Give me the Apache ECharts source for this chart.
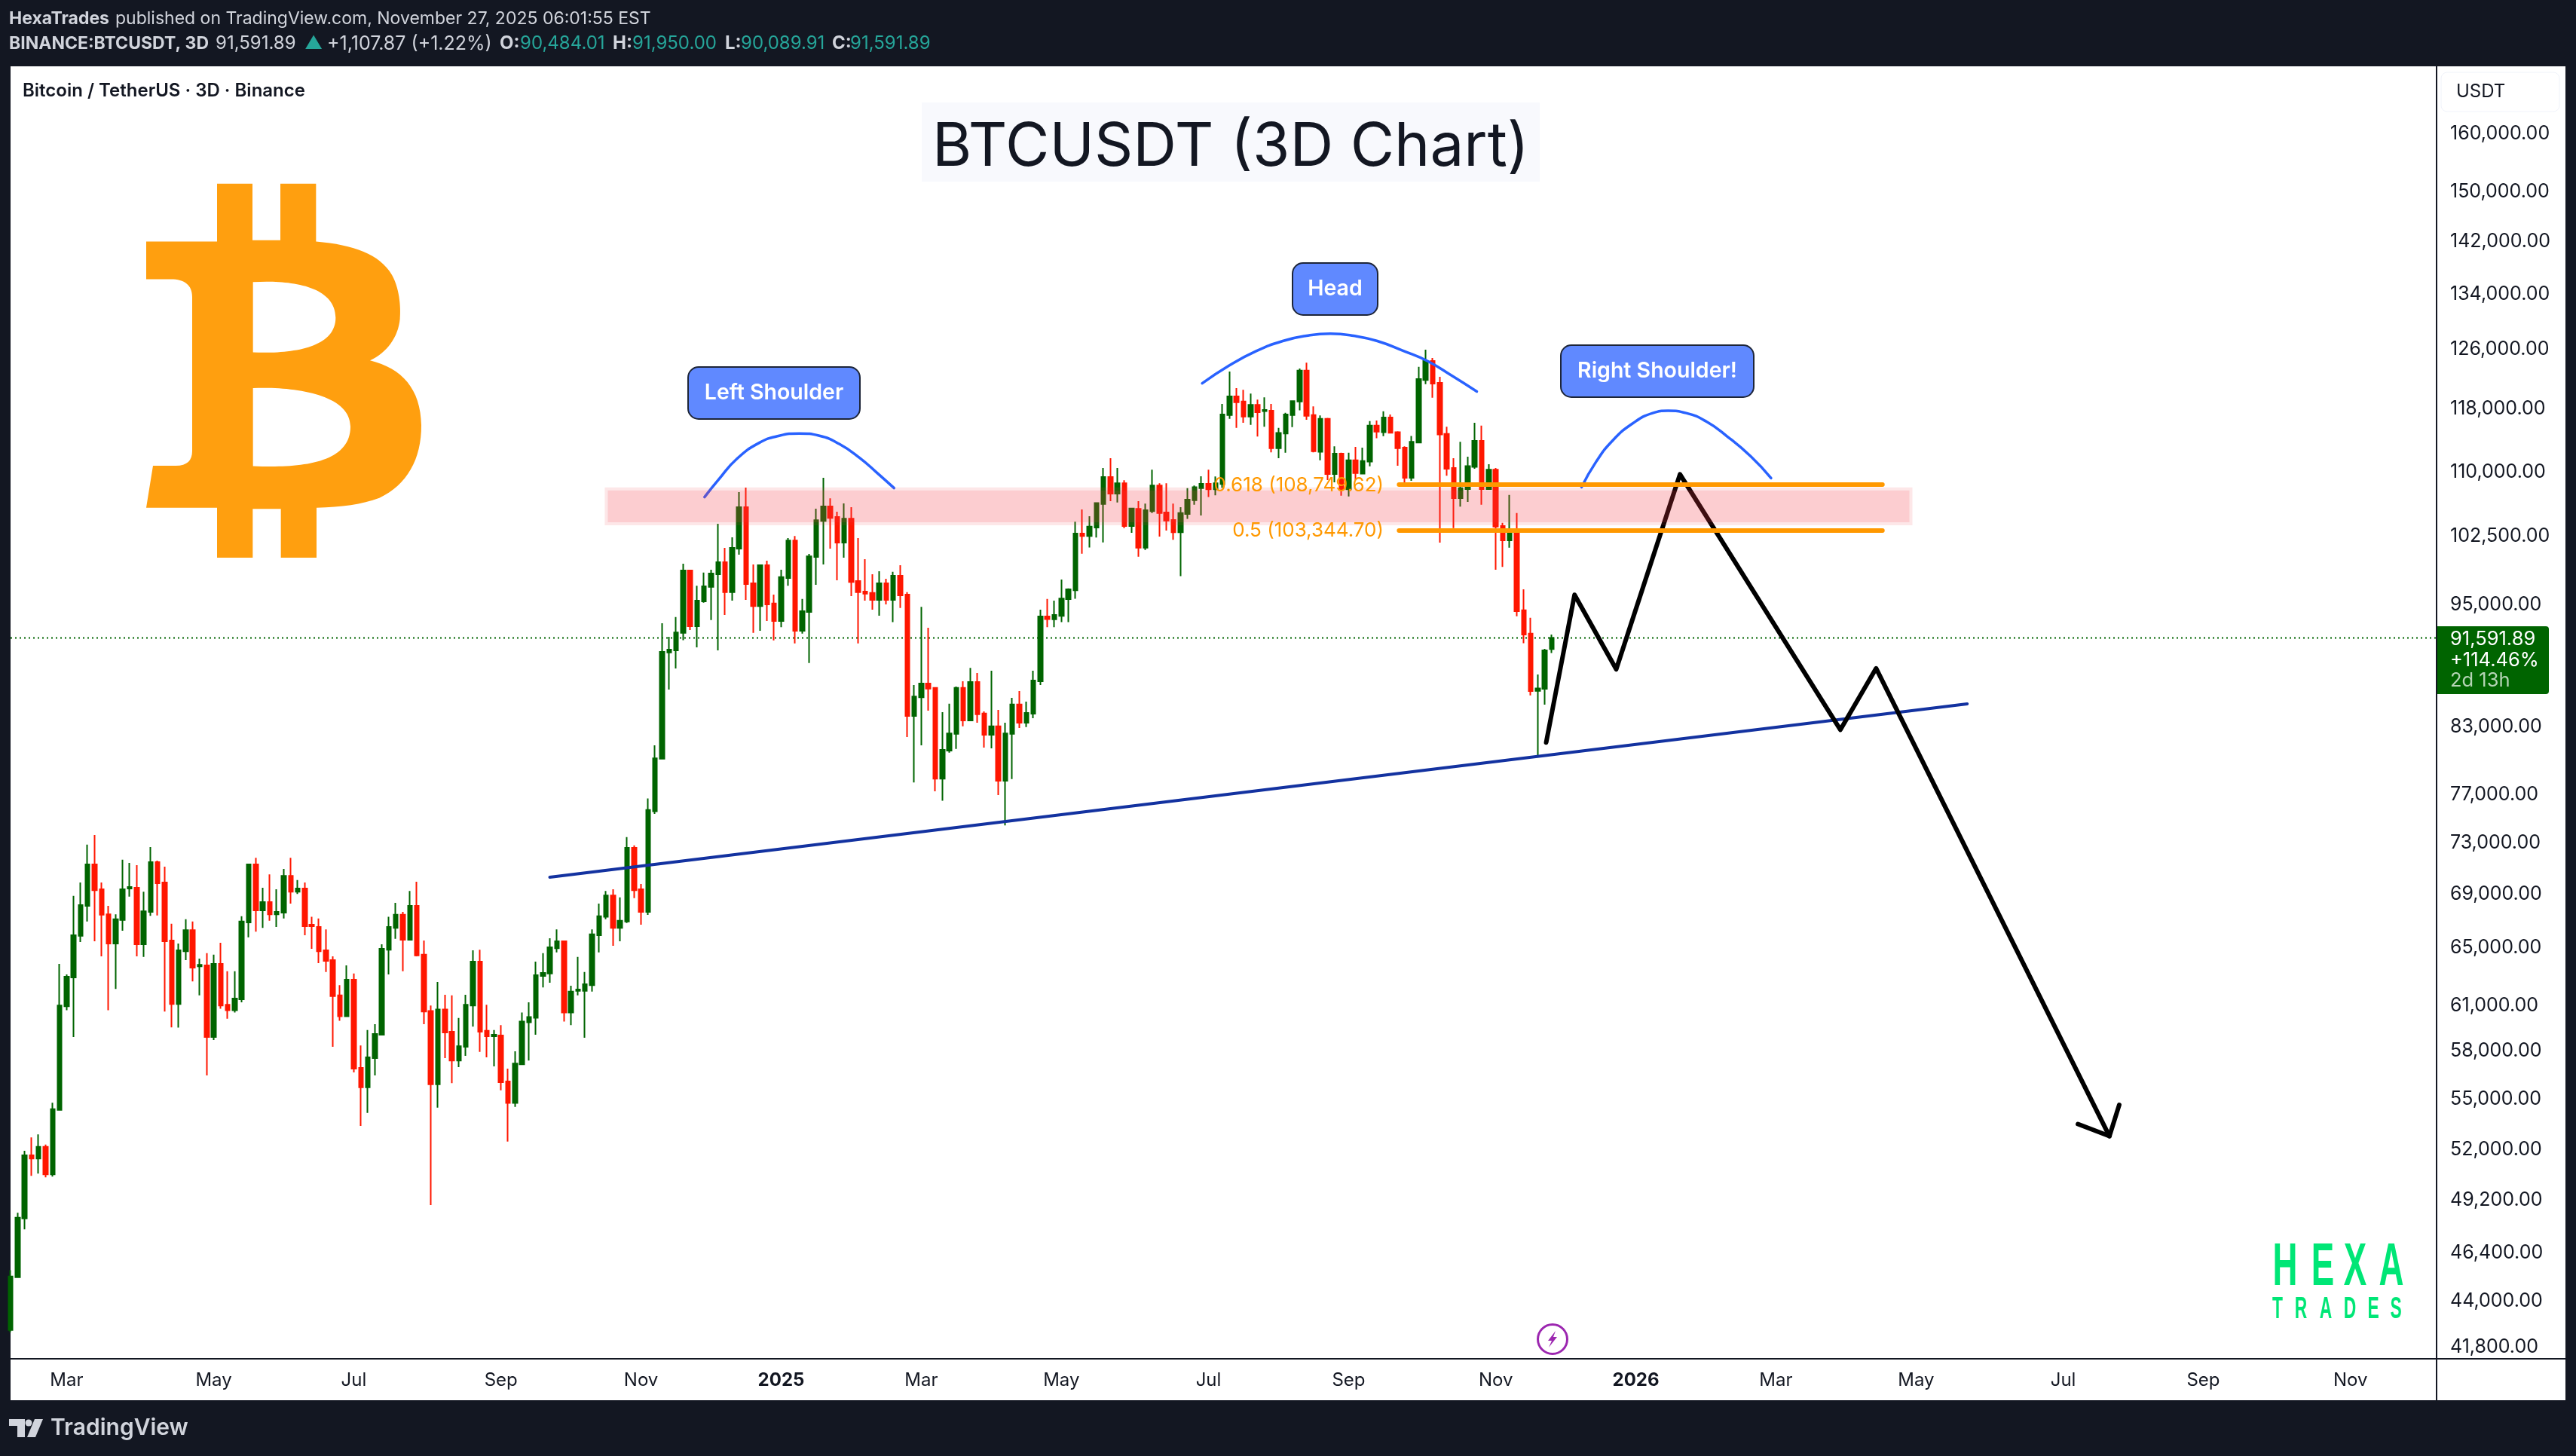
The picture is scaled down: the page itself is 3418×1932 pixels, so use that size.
<!DOCTYPE html>
<html>
<head>
<meta charset="utf-8">
<title>BTCUSDT (3D Chart)</title>
<script src="https://cdn.jsdelivr.net/npm/echarts@6/dist/echarts.min.js"></script>
<style>
  html, body { margin: 0; padding: 0; background: #131722; }
  #chart { width: 3418px; height: 1932px; }
</style>
</head>
<body>
<div id="chart"></div>
<script>
// 3D candles, one value per bar, bar 0 = first bar on the left edge
const opens = [
  42600,45160,48200,51680,51500,52170,50610,54340,60950,62920,65880,68100,71300,69360,67470,65330,67050,69420,69480,65270,
  67650,71480,69890,65540,61100,64770,66300,63700,63760,58910,63870,61050,60680,61420,66870,71300,67760,68390,67470,67590,
  70400,69180,69420,66700,66530,64830,64140,61680,60280,62760,56930,55720,57550,59060,64880,66470,67440,65600,68100,64520,
  60630,55910,60730,59260,57400,58280,61000,64030,59310,58960,59010,56080,54760,57160,59880,60180,63030,63190,64990,65490,
  60530,62000,62000,62390,65930,67280,68890,66470,66930,72620,69360,67650,75620,80140,90140,90350,92110,98690,92780,95370,
  96910,98290,99610,96360,101100,105860,97310,94890,99260,95150,93340,97880,102020,92320,94260,100190,104260,105950,104720,101790,
  104510,97540,96410,96270,95540,97310,95540,98110,96100,84030,85770,87100,86670,78400,80870,82370,86670,83610,87230,84250,
  82300,83060,78220,82370,85100,83400,84230,87310,93790,93510,93860,95620,96560,102800,102530,103500,106230,109430,107450,108700,
  103660,105660,101210,105390,108420,105230,104360,102960,105060,106670,108110,108630,107970,108600,117210,119660,118980,117020,118530,117730,
  117760,112980,114830,117210,118980,123110,117210,112550,116720,109810,112300,107970,111490,109850,111320,115840,115010,116900,115010,113050,
  109360,113690,121850,124440,121460,114790,110550,106910,108000,110680,113900,108000,110340,103660,102040,103260,94440,92040,86390,86580,
  90484.01
];
const highs = [
  45510,48500,51940,52720,52890,52300,54780,63870,63130,68860,69890,72870,73650,69890,68100,67470,71670,71420,71240,69180,
  72680,71600,71120,66770,65330,67100,66930,64250,64630,64520,65380,63350,63350,67330,71360,71820,69480,70520,69360,70940,
  71820,70070,69890,67280,67160,66360,64410,62390,63760,63190,58360,59370,59750,65270,67280,68330,67650,69240,69950,65540,
  61000,62600,61730,61680,60160,61730,64830,64880,61050,59370,59690,56880,57980,60530,61210,64030,64630,65710,66360,65490,
  62340,64360,63300,66360,68270,69240,69360,68740,73480,72810,69770,76700,81340,93100,91710,93740,99440,98690,97050,98460,
  98780,103920,101190,102380,107630,108180,99350,99350,99760,96100,98780,102290,102530,95630,100510,105670,109340,106900,105330,106300,
  105860,102290,99930,98290,98600,97800,98540,99260,96360,86950,94810,92640,86720,84370,85170,86800,87310,88610,88120,84440,
  88330,84590,83400,85720,86370,85360,88330,94510,95630,95460,97710,96750,104170,105590,104790,106400,110550,111740,110550,109050,
  105790,106570,106260,110340,108700,108700,106260,105860,108110,108420,109530,110340,109500,118660,122980,120760,120530,120030,119220,119530,
  118660,115550,117490,119100,123390,124210,118340,117170,116830,113230,112420,112420,113160,113050,116420,116490,117690,117280,115120,113230,
  114520,123630,126000,124840,122280,115700,111740,113790,111920,116200,115840,111000,110550,104030,107300,105160,96650,93660,87960,90500,
  91950
];
const lows = [
  42500,45150,47620,50520,50650,50440,50480,54340,60680,58910,65440,66930,65490,64410,60680,62130,66250,68800,64410,64360,
  67360,67390,60590,59540,59520,64140,62650,61680,56460,58710,60780,60110,60530,61210,65770,66190,66470,66990,66530,67160,
  68270,69010,65930,64940,63920,63300,58280,59980,60280,56640,53390,54160,56460,59060,63130,65660,63350,65600,64410,59750,
  48920,54480,57550,55980,56980,57700,59590,57950,57600,57030,55530,52470,54530,57160,57400,59060,62230,62550,64690,59930,
  59690,61680,58860,61940,64690,67100,65160,65490,66820,68690,66700,67420,75400,80090,86520,88560,91360,92400,90650,95230,
  93420,90350,93960,95460,100430,95540,92110,92320,93340,91340,92700,97050,91050,92030,89090,97140,99350,101100,97630,100110,
  95940,91050,95460,94510,93880,95060,93210,94680,82080,78070,81340,84520,77310,76510,80680,81010,83060,83610,83400,81130,
  81060,76990,74440,78360,82920,83000,83810,86950,92700,92690,93210,93210,95650,100550,101240,102360,101800,106570,106400,103430,
  102900,100210,100950,105160,102460,103160,102100,98070,104500,106130,104890,107060,107250,108140,116720,115550,116200,115950,114460,115700,
  112480,111740,112420,115660,117830,116600,112480,111500,109080,108810,107210,107110,109080,109850,110750,114240,114500,114900,110820,108810,
  108980,113690,121270,119480,101790,109600,103430,105920,106470,110450,106130,108000,98780,99090,101210,93810,91070,85960,80440,85080,
  90089.91
];
const closes = [
  45200,48240,51680,51500,52170,50610,54390,61000,62970,65930,68160,71300,69300,67440,65330,67100,69360,69540,65270,67700,
  71480,69830,65490,61100,64830,66300,63600,63810,58910,63870,61000,60680,61470,66930,71300,67760,68390,67470,67650,70400,
  69180,69420,66590,66590,64770,64090,61630,60280,62760,56880,55720,57600,59110,64940,66530,67440,65600,68100,64470,60590,
  55910,60730,59210,57400,58310,61050,64030,59260,58960,59060,56030,54760,57200,59930,60230,63080,63240,65050,65490,60530,
  61940,62080,62450,65990,67330,68890,66470,66990,72620,69300,67650,75730,80180,90190,90430,92160,98690,92780,95460,96970,
  98370,99610,96360,101190,105860,97220,94890,99260,95060,93340,97970,102020,92320,94340,100250,104350,105950,104600,101790,104510,
  97450,96360,96190,95540,97310,95540,98110,96020,84030,85850,87100,86600,78400,80940,82420,86670,83610,87230,84180,82300,
  83060,78220,82420,85100,83400,84300,87390,93790,93520,93950,95680,96650,102800,102530,103600,106330,109430,107450,108700,103660,
  105690,101210,105490,108420,105160,104300,102960,105160,106740,108210,108630,107970,108700,117280,119660,118870,117020,118530,117580,117870,
  112980,114900,117280,119030,123110,117100,112620,116720,109810,112300,107970,111490,109910,111390,115840,115080,116900,114940,112980,109360,
  113790,121970,124440,121350,114720,110450,106910,108110,110780,113900,108000,110340,103600,102040,103260,94350,91950,86360,86630,90350,
  91591.89
];

// axis ticks
const priceTicks = [160000,150000,142000,134000,126000,118000,110000,102500,95000,83000,77000,73000,69000,65000,61000,58000,55000,52000,49200,46400,44000,41800];
const monthTicks = [8,29,49,70,90,110,130,150,171,191,212,232,252,272,293,313,334];
const monthLabels = ['Mar','May','Jul','Sep','Nov','2025','Mar','May','Jul','Sep','Nov','2026','Mar','May','Jul','Sep','Nov'];

// drawings on the chart as [bar, price]
const lastPrice = 91591.89;
const xEnd = 346.3;
const trendLine = [[76.97,70300],[279.3,85155]];
const fib618 = [[198.2,108530],[267.2,108530]];
const fib500 = [[198.2,103160],[267.2,103160]];
const zigzag = [[219.2,81590],[223.25,96070],[229.2,88480],[238.3,109770],[261.2,82750],[266.3,88570],[299.6,52790]];
const arrowHead = [[295.1,53500],[299.6,52790],[301.0,54650]];
const leftArc = [[99.06,107040],[101.11,109170],[103.63,111630],[106.86,113660],[109.72,114550],[112.59,114840],[115.47,114550],[118.33,113500],[121.21,111780],[123.71,109930],[126.12,108110]];
const headArc = [[170.1,121390],[173.95,123810],[177.8,125800],[181.6,127210],[185,127950],[188.4,128240],[191.7,127950],[195.1,127210],[198.9,125800],[202.3,124400],[205.7,122440],[209.3,120300]];
const rightArc = [[224.25,108220],[226.3,111270],[228.7,113960],[231.6,116160],[234.4,117460],[236.6,117760],[239.2,117460],[242.1,116350],[245,114500],[248.4,111970],[251.3,109320]];
const zone = [[85.25,107830,271.05,104100]];

const FONT = 'Inter, "Noto Sans", sans-serif';
const LOGO_FONT = '"Liberation Sans", sans-serif';
const DARK = '#131722';
const UP = '#006400';
const DOWN = '#ff1600';

const candleData = opens.map((o, i) => [i, o, closes[i], lows[i], highs[i]]);

function drawing(data, color, width, z, smooth) {
    return {
        type: 'line', data: data, symbol: 'none', z: z, smooth: !!smooth, silent: true,
        lineStyle: { color: color, width: width, cap: 'round', join: 'round' }
    };
}

function txt(text, x, y, size, color, extra) {
    return {
        type: 'text', z: 40, x: x, y: y,
        style: Object.assign({
            text: text, fontFamily: FONT, fontSize: size, fill: color,
            textAlign: 'left', textVerticalAlign: 'middle'
        }, extra || {})
    };
}

function callout(label, x0, y0, x1, y1) {
    return [
        { type: 'rect', z: 30, shape: { x: x0, y: y0, width: x1 - x0, height: y1 - y0, r: 14 },
          style: { fill: '#6089ff', stroke: '#1d2538', lineWidth: 2 } },
        txt(label, (x0 + x1) / 2, (y0 + y1) / 2, 28.5, '#ffffff', { textAlign: 'center', fontWeight: 600 })
    ];
}

function logoLetter(letter, x, y, size, squeeze) {
    const el = txt(letter, x, y, size, '#00e676', { textAlign: 'center', fontWeight: 700, fontFamily: LOGO_FONT });
    el.scaleX = squeeze;
    return el;
}

const headerRow2 = [
    ['91,591.89', 286, '#d1d4dc', 400, 24], ['▲', 404, '#26a69a', 400, 24], ['+1,107.87 (+1.22%)', 434, '#d1d4dc', 400, 25],
    ['O:', 663, '#d1d4dc', 700, 24], ['90,484.01', 690, '#26a69a', 400, 24],
    ['H:', 813, '#d1d4dc', 700, 24], ['91,950.00', 839, '#26a69a', 400, 24],
    ['L:', 962, '#d1d4dc', 700, 24], ['90,089.91', 983, '#26a69a', 400, 24],
    ['C:', 1104, '#d1d4dc', 700, 24], ['91,591.89', 1128, '#26a69a', 400, 24]
];

// bitcoin logo outline
const btcPath = 'M354 69L495 69L495 287L606 287L606 69L748 69L748 292C900 305 1000 340 1050 420C1085 480 1085 560 1082 590C1075 660 1030 720 963 750C1090 780 1165 860 1167 1000C1168 1130 1110 1230 1000 1280C930 1305 850 1315 750 1318L750 1510L608 1510L608 1322L496 1322L496 1510L354 1510L354 1318L72 1318L99 1156L190 1156C235 1156 255 1135 255 1100L255 505C255 460 225 437 170 437L72 437L72 292L354 292Z'
    + 'M497 448L497 719C660 725 826 700 826 585C825 460 640 440 497 448Z'
    + 'M497 857L497 1157C680 1165 885 1150 885 1005C885 880 660 850 497 857Z';
echarts.graphic.registerShape('btcLogo', echarts.graphic.extendPath(btcPath, {}));

const graphics = [
    // white panel and its borders
    { type: 'rect', z: -1, shape: { x: 14, y: 88, width: 3390, height: 1770 }, style: { fill: '#ffffff' } },
    { type: 'rect', z: 35, shape: { x: 3232, y: 88, width: 2, height: 1770 }, style: { fill: DARK } },
    { type: 'rect', z: 35, shape: { x: 14, y: 1802, width: 3390, height: 2 }, style: { fill: DARK } },

    // header
    txt('HexaTrades', 12, 25, 23, '#d1d4dc', { fontWeight: 700 }),
    txt('published on TradingView.com, November 27, 2025 06:01:55 EST', 153, 25, 23, '#d1d4dc'),
    txt('BINANCE:BTCUSDT, 3D', 12, 58, 23, '#d1d4dc', { fontWeight: 700 }),
    txt('Bitcoin / TetherUS · 3D · Binance', 30, 121, 24, DARK, { fontWeight: 600 }),

    // title
    { type: 'rect', z: 1, shape: { x: 1223, y: 136, width: 820, height: 105 }, style: { fill: '#f8f9fd' } },
    txt('BTCUSDT (3D Chart)', 1633, 196, 80, DARK, { textAlign: 'center' }),

    // bitcoin logo
    { type: 'btcLogo', z: 1, x: 170, y: 220, scaleX: 1 / 3, scaleY: 1 / 2.904, style: { fill: '#ff9f0f' } },

    // fib labels
    txt('0.618 (108,749.62)', 1836, 644, 26, '#ff9800', { textAlign: 'right' }),
    txt('0.5 (103,344.70)', 1836, 704, 26, '#ff9800', { textAlign: 'right' }),

    // price scale extras
    { type: 'rect', z: 40, shape: { x: 3239, y: 96, width: 157, height: 52, r: 8 },
      style: { fill: '#ffffff', stroke: '#f0f3fa', lineWidth: 1 } },
    txt('USDT', 3259, 122, 24, DARK),
    { type: 'rect', z: 40, shape: { x: 3234, y: 831, width: 148, height: 90, r: [0, 4, 4, 0] }, style: { fill: UP } },
    txt('91,591.89', 3251, 848, 25.5, '#ffffff'),
    txt('+114.46%', 3251, 876, 25.5, '#ffffff'),
    txt('2d 13h', 3251, 903, 25.5, '#b4d4b4'),

    // lightning event icon
    { type: 'circle', z: 40, shape: { cx: 2060, cy: 1777, r: 19.5 },
      style: { fill: '#ffffff', stroke: '#9c27b0', lineWidth: 3 } },
    { type: 'polygon', z: 41, shape: { points: [[2064,1766],[2054,1779],[2059,1779],[2055,1788],[2066,1774],[2061,1774]] },
      style: { fill: '#9c27b0' } },

    // tradingview footer logo
    { type: 'polygon', z: 40, shape: { points: [[12,1883],[33,1883],[33,1907],[23,1907],[23,1892],[12,1892]] }, style: { fill: '#d1d4dc' } },
    { type: 'circle', z: 40, shape: { cx: 38, cy: 1888, r: 4.5 }, style: { fill: '#d1d4dc' } },
    { type: 'polygon', z: 40, shape: { points: [[46,1883],[57,1883],[47,1907],[36,1907]] }, style: { fill: '#d1d4dc' } },
    txt('TradingView', 67, 1895, 30, '#d1d4dc', { fontWeight: 600 })
];

headerRow2.forEach(p => graphics.push(txt(p[0], p[1], 58, p[4], p[2], { fontWeight: p[3] })));
graphics.push.apply(graphics, callout('Left Shoulder', 913, 487, 1141, 556));
graphics.push.apply(graphics, callout('Head', 1715, 349, 1828, 418));
graphics.push.apply(graphics, callout('Right Shoulder!', 2071, 458, 2327, 527));

// HEXA TRADES watermark, letters are spaced by hand
[['H',3032],['E',3082],['X',3125],['A',3173]].forEach(l => graphics.push(logoLetter(l[0], l[1], 1683, 80, 0.57)));
[['T',3022],['R',3053],['A',3086],['D',3118],['E',3149],['S',3179]].forEach(l => graphics.push(logoLetter(l[0], l[1], 1738, 40, 0.57)));

const option = {
    backgroundColor: DARK,
    animation: false,
    graphic: { elements: graphics },
    grid: { left: 14, top: 88, width: 3219, height: 1715, containLabel: false },
    xAxis: {
        type: 'value', min: 0, max: xEnd,
        axisLine: { show: false }, axisTick: { show: false }, splitLine: { show: false },
        axisLabel: {
            customValues: monthTicks, margin: 17, color: DARK, fontFamily: FONT, fontSize: 24,
            formatter: v => {
                const label = monthLabels[monthTicks.indexOf(Math.round(v))];
                return label.length === 4 ? '{year|' + label + '}' : label;
            },
            rich: { year: { fontFamily: FONT, fontSize: 24, fontWeight: 700, color: DARK } }
        }
    },
    yAxis: {
        type: 'log', logBase: 10, position: 'right', min: 41266, max: 172380,
        axisLine: { show: false }, axisTick: { show: false }, splitLine: { show: false },
        axisLabel: {
            customValues: priceTicks, margin: 18, color: DARK, fontFamily: FONT, fontSize: 25,
            formatter: v => Number(v).toLocaleString('en-US', { minimumFractionDigits: 2, maximumFractionDigits: 2 })
        }
    },
    series: [
        {
            type: 'line', data: [[0, lastPrice], [xEnd, lastPrice]], symbol: 'none', z: 1, silent: true,
            lineStyle: { color: UP, width: 2, type: [2, 4] }
        },
        {
            type: 'candlestick', data: candleData, z: 2, barWidth: 6, silent: true,
            itemStyle: { color: UP, color0: DOWN, borderColor: UP, borderColor0: DOWN, borderWidth: 2 }
        },
        drawing(trendLine, '#1332a0', 4, 5),
        drawing(leftArc, '#2962ff', 3.5, 5, true),
        drawing(headArc, '#2962ff', 3.5, 5, true),
        drawing(rightArc, '#2962ff', 3.5, 5, true),
        drawing(zigzag, '#000000', 6, 6),
        drawing(arrowHead, '#000000', 6, 6),
        {
            // pink supply zone, sits over the candles
            type: 'custom', data: zone, z: 10, silent: true, encode: { x: [0, 2], y: [1, 3] },
            renderItem: (params, api) => {
                const a = api.coord([api.value(0), api.value(1)]);
                const b = api.coord([api.value(2), api.value(3)]);
                const w = b[0] - a[0], h = b[1] - a[1];
                return {
                    type: 'group',
                    children: [
                        { type: 'rect', shape: { x: a[0], y: a[1], width: w, height: h }, style: { fill: 'rgba(242,54,69,0.25)' } },
                        { type: 'rect', shape: { x: a[0] - 2, y: a[1] - 2, width: w + 4, height: h + 4 }, style: { fill: 'none', stroke: 'rgba(242,54,69,0.12)', lineWidth: 4 } }
                    ]
                };
            }
        },
        drawing(fib618, '#ff9800', 6, 11),
        drawing(fib500, '#ff9800', 6, 11)
    ]
};

const myChart = echarts.init(document.getElementById('chart'));
myChart.setOption(option);
</script>
</body>
</html>
